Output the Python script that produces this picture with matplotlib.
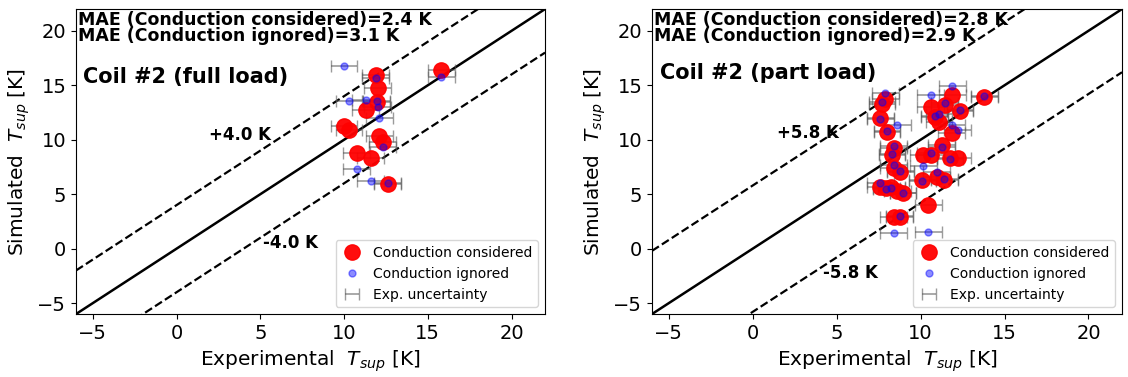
import matplotlib.pyplot as plt
import numpy as np

# coil #2 full load
x_full = [15.8, 11.9, 12.0, 11.95, 11.3, 10.0, 10.3, 12.1, 12.3, 10.75, 11.6, 12.6]
cond_full = [16.4, 15.9, 14.75, 13.5, 12.75, 11.3, 10.9, 10.35, 9.8, 8.75, 8.35, 5.95]
ign_full = [15.8, 15.7, 13.0, 13.6, 13.65, 16.8, 13.55, 12.0, 9.3, 7.3, 6.25, 6.0]

# coil #2 part load
x_part = [7.9, 7.7, 7.6, 8.0, 11.9, 13.8, 10.6, 11.45, 12.35, 10.85, 11.1, 11.85,
          11.25, 8.4, 8.3, 10.15, 10.6, 11.75, 12.2, 8.4, 8.8, 10.95, 10.1, 11.4,
          7.6, 7.95, 8.25, 8.6, 8.95, 10.45, 8.4, 8.75]
cond_part = [13.7, 13.3, 12.0, 10.75, 14.1, 13.9, 13.0, 13.2, 12.6, 12.1, 11.6, 10.6,
             9.5, 9.25, 8.6, 8.6, 8.6, 8.3, 8.3, 7.4, 7.0, 6.6, 6.3, 6.3,
             5.7, 5.6, 5.7, 5.3, 5.1, 4.0, 2.95, 2.9]
ign_part = [14.3, 13.5, 11.9, 10.8, 14.9, 14.0, 14.1, 13.4, 12.7, 12.2, 12.4, 11.35,
            9.3, 9.4, 8.7, 7.6, 8.8, 8.2, 10.9, 7.7, 7.1, 7.0, 6.2, 6.4,
            6.0, 5.5, 5.6, 11.35, 5.1, 1.5, 1.45, 3.0]

x_err = 0.8
lims = [-6, 22]

panels = [
    (x_full, cond_full, ign_full, 4.0, 2.4, 3.1, "Coil #2 (full load)",
     (3.8, 10.4), (6.8, 0.5), (-5.6, 15.8)),
    (x_part, cond_part, ign_part, 5.8, 2.8, 2.9, "Coil #2 (part load)",
     (3.3, 10.6), (5.8, -2.2), (-5.5, 16.1)),
]

fig = plt.figure(figsize=(11.28, 3.77), dpi=100)
rects = [[0.0674, 0.167, 0.4158, 0.809], [0.578, 0.167, 0.4167, 0.809]]

for rect, (xs, yc, yi, band, mae_c, mae_i, title, p_up, p_lo, p_title) in zip(rects, panels):
    ax = fig.add_axes(rect)
    xx = np.array(lims)
    ax.plot(xx, xx, 'k-', lw=1.8)
    ax.plot(xx, xx + band, 'k--', lw=1.6)
    ax.plot(xx, xx - band, 'k--', lw=1.6)

    ax.errorbar(xs, yi, xerr=x_err, fmt='none', ecolor='0.35', alpha=0.6,
                capsize=4, elinewidth=1.2, zorder=2)
    eb = ax.errorbar(xs, yc, xerr=x_err, fmt='none', ecolor='0.35', alpha=0.6,
                     capsize=4, elinewidth=1.2, zorder=2, label='Exp. uncertainty')
    ax.plot(xs, yc, 'o', color='red', ms=11, alpha=0.95, zorder=3,
            label='Conduction considered')
    ax.plot(xs, yi, 'o', color='blue', ms=5, alpha=0.45, zorder=4,
            label='Conduction ignored')

    ax.text(0.005, 0.995, "MAE (Conduction considered)=%.1f K\nMAE (Conduction ignored)=%.1f K"
            % (mae_c, mae_i), transform=ax.transAxes, ha='left', va='top',
            fontsize=12.5, fontweight='bold', linespacing=0.9)
    ax.text(p_title[0], p_title[1], title, ha='left', va='center',
            fontsize=15, fontweight='bold')
    ax.text(p_up[0], p_up[1], "+%.1f K" % band, ha='center', va='center',
            fontsize=12, fontweight='bold')
    ax.text(p_lo[0], p_lo[1], "-%.1f K" % band, ha='center', va='center',
            fontsize=12, fontweight='bold')

    ax.set_xlim(lims)
    ax.set_ylim(lims)
    ax.set_xticks([-5, 0, 5, 10, 15, 20])
    ax.set_yticks([-5, 0, 5, 10, 15, 20])
    ax.tick_params(labelsize=14)
    ax.set_xlabel(r"Experimental  $T_{sup}$ [K]", fontsize=14.5)
    ax.set_ylabel(r"Simulated  $T_{sup}$ [K]", fontsize=14.5)

    h, l = ax.get_legend_handles_labels()
    order = [l.index('Conduction considered'), l.index('Conduction ignored'),
             l.index('Exp. uncertainty')]
    ax.legend([h[i] for i in order], [l[i] for i in order], loc='lower right',
              fontsize=10, borderaxespad=0.5, handlelength=1.5)

fig.savefig('out.png', dpi=100)
